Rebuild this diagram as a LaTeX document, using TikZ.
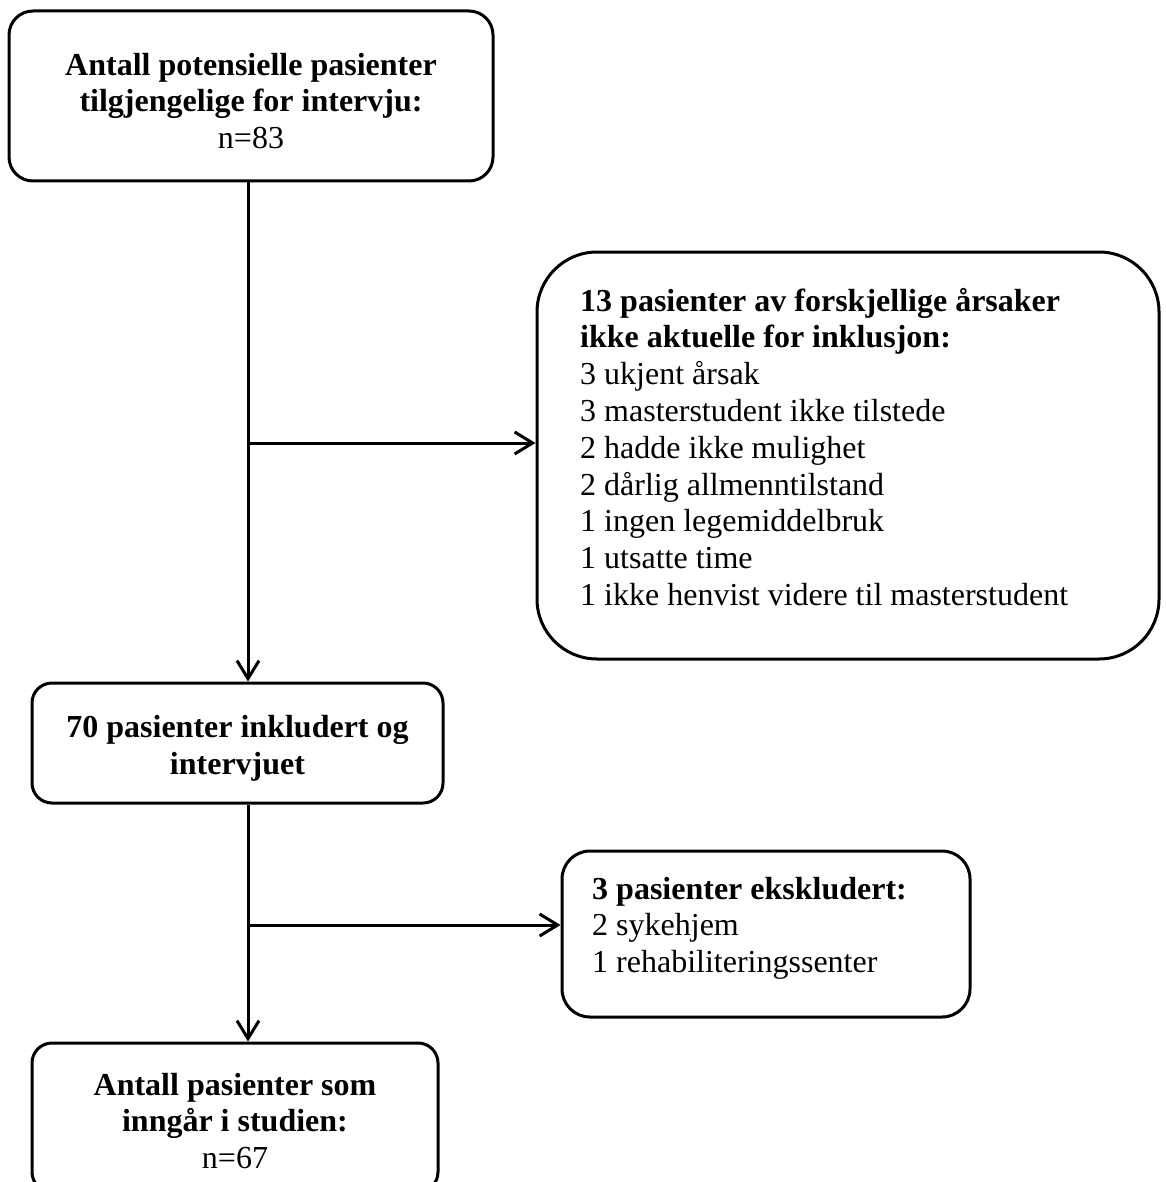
\documentclass[tikz,border=0pt]{standalone}
\usepackage{fontspec}
\setmainfont{Liberation Serif}
\usetikzlibrary{arrows.meta}
\begin{document}
\begin{tikzpicture}[x=1pt,y=-1pt,
  box/.style={draw=black, line width=3pt, rectangle, inner sep=0pt},
  txt/.style={inner sep=0pt, font=\fontsize{32}{36.8}\selectfont},
  conn/.style={line width=3pt, -{Straight Barb[length=18pt,width=22pt,line width=3pt]}}]
\useasboundingbox (0,0) rectangle (1165,1182);
\fill[white] (0,0) rectangle (1165,1182);
% boxes
\node[box, rounded corners=24pt, minimum width=484pt, minimum height=170pt] (b1) at (251,96) {};
\node[box, rounded corners=60pt, minimum width=622pt, minimum height=407pt] (b2) at (848,455.5) {};
\node[box, rounded corners=20pt, minimum width=411pt, minimum height=120pt] (b3) at (237.5,743) {};
\node[box, rounded corners=28pt, minimum width=408pt, minimum height=166pt] (b4) at (766,934) {};
\node[box, rounded corners=20pt, minimum width=406pt, minimum height=149pt] (b5) at (235,1117.5) {};
% texts
\node[txt, align=center] (t1) at (251,101)
  {\textbf{Antall potensielle pasienter}\\\textbf{tilgjengelige for intervju:}\\n=83};
\node[txt, align=left, anchor=base west] (t2) at (580,605.4)
  {\textbf{13 pasienter av forskjellige årsaker}\\\textbf{ikke aktuelle for inklusjon:}\\3 ukjent årsak\\3 masterstudent ikke tilstede\\2 hadde ikke mulighet\\2 dårlig allmenntilstand\\1 ingen legemiddelbruk\\1 utsatte time\\1 ikke henvist videre til masterstudent};
\node[txt, align=center] (t3) at (237.5,748)
  {\textbf{70 pasienter inkludert og}\\\textbf{intervjuet}};
\node[txt, align=left, anchor=base west] (t4) at (592,972.6)
  {\textbf{3 pasienter ekskludert:}\\2 sykehjem\\1 rehabiliteringssenter};
\node[txt, align=center] (t5) at (235,1121)
  {\textbf{Antall pasienter som}\\\textbf{inngår i studien:}\\n=67};
% connectors
\coordinate (vx) at (248,0);
\coordinate (j1) at (248,443);
\coordinate (j2) at (248,925);
\draw[conn] (b1.south -| vx) -- (b3.north -| vx);
\draw[conn] (j1) -- (j1 -| b2.west);
\draw[conn] (b3.south -| vx) -- (b5.north -| vx);
\draw[conn] (j2) -- (j2 -| b4.west);
\end{tikzpicture}
\end{document}
